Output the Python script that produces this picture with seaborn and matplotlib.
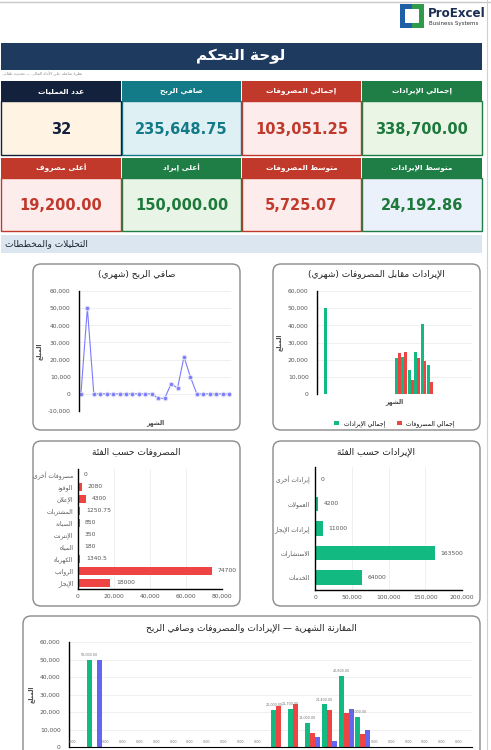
import numpy as np
import pandas as pd
import matplotlib
matplotlib.use("Agg")
import matplotlib.pyplot as plt
import seaborn as sns
from matplotlib.patches import Rectangle, FancyBboxPatch
from matplotlib.ticker import FuncFormatter

# ---------------- data ----------------
months = [f"M{i+1}" for i in range(24)]
monthly_revenue = [0, 50000, 0, 0, 0, 0, 0, 0, 0, 0, 0, 0,
                   21000, 21700, 14000, 24400, 40800, 17000, 0, 0, 0, 0, 0, 0]
monthly_expenses = [0, 0, 0, 0, 0, 0, 0, 0, 0, 0, 0, 0,
                    23600, 24300, 8200, 21000, 19200, 7200, 0, 0, 0, 0, 0, 0]
monthly_net = [0, 50000, 0, 0, 0, 0, 0, 0, 0, 0, 0, 0,
               -2600, -2600, 5800, 3400, 21600, 9800, 0, 0, 0, 0, 0, 0]

expense_cats = ["مصروفات أخرى", "الوقود", "الإعلان", "المشتريات", "الصيانة",
                "الإنترنت", "المياه", "الكهرباء", "الرواتب", "الإيجار"]
expense_vals = [0, 2080, 4300, 1250.75, 850, 350, 180, 1340.5, 74700, 18000]
revenue_cats = ["إيرادات أخرى", "العمولات", "إيرادات الإيجار", "الاستشارات", "الخدمات"]
revenue_vals = [0, 4200, 11000, 163500, 64000]

kpi_row1_labels = ["إجمالي الإيرادات", "إجمالي المصروفات", "صافي الربح", "عدد العمليات"]
kpi_row1_values = ["338,700.00", "103,051.25", "235,648.75", "32"]
kpi_row2_labels = ["متوسط الإيرادات", "متوسط المصروفات", "أعلى إيراد", "أعلى مصروف"]
kpi_row2_values = ["24,192.86", "5,725.07", "150,000.00", "19,200.00"]

# ---------------- arabic shaping ----------------
F = {
 'ء': (0xFE80, None, None, None),
 'آ': (0xFE81, 0xFE82, None, None), 'أ': (0xFE83, 0xFE84, None, None),
 'ؤ': (0xFE85, 0xFE86, None, None), 'إ': (0xFE87, 0xFE88, None, None),
 'ئ': (0xFE89, 0xFE8A, 0xFE8B, 0xFE8C), 'ا': (0xFE8D, 0xFE8E, None, None),
 'ب': (0xFE8F, 0xFE90, 0xFE91, 0xFE92), 'ة': (0xFE93, 0xFE94, None, None),
 'ت': (0xFE95, 0xFE96, 0xFE97, 0xFE98), 'ث': (0xFE99, 0xFE9A, 0xFE9B, 0xFE9C),
 'ج': (0xFE9D, 0xFE9E, 0xFE9F, 0xFEA0), 'ح': (0xFEA1, 0xFEA2, 0xFEA3, 0xFEA4),
 'خ': (0xFEA5, 0xFEA6, 0xFEA7, 0xFEA8), 'د': (0xFEA9, 0xFEAA, None, None),
 'ذ': (0xFEAB, 0xFEAC, None, None), 'ر': (0xFEAD, 0xFEAE, None, None),
 'ز': (0xFEAF, 0xFEB0, None, None), 'س': (0xFEB1, 0xFEB2, 0xFEB3, 0xFEB4),
 'ش': (0xFEB5, 0xFEB6, 0xFEB7, 0xFEB8), 'ص': (0xFEB9, 0xFEBA, 0xFEBB, 0xFEBC),
 'ض': (0xFEBD, 0xFEBE, 0xFEBF, 0xFEC0), 'ط': (0xFEC1, 0xFEC2, 0xFEC3, 0xFEC4),
 'ظ': (0xFEC5, 0xFEC6, 0xFEC7, 0xFEC8), 'ع': (0xFEC9, 0xFECA, 0xFECB, 0xFECC),
 'غ': (0xFECD, 0xFECE, 0xFECF, 0xFED0), 'ف': (0xFED1, 0xFED2, 0xFED3, 0xFED4),
 'ق': (0xFED5, 0xFED6, 0xFED7, 0xFED8), 'ك': (0xFED9, 0xFEDA, 0xFEDB, 0xFEDC),
 'ل': (0xFEDD, 0xFEDE, 0xFEDF, 0xFEE0), 'م': (0xFEE1, 0xFEE2, 0xFEE3, 0xFEE4),
 'ن': (0xFEE5, 0xFEE6, 0xFEE7, 0xFEE8), 'ه': (0xFEE9, 0xFEEA, 0xFEEB, 0xFEEC),
 'و': (0xFEED, 0xFEEE, None, None), 'ى': (0xFEEF, 0xFEF0, None, None),
 'ي': (0xFEF1, 0xFEF2, 0xFEF3, 0xFEF4),
}
LAMALEF = {'آ': (0xFEF5, 0xFEF6), 'أ': (0xFEF7, 0xFEF8), 'إ': (0xFEF9, 0xFEFA), 'ا': (0xFEFB, 0xFEFC)}


def dual(c):
    return c in F and F[c][2] is not None


def ar(s):
    out = []
    i = 0
    n = len(s)
    while i < n:
        c = s[i]
        if c not in F:
            out.append(c)
            i += 1
            continue
        prev = s[i - 1] if i > 0 else ''
        cp = dual(prev)
        if c == 'ل' and i + 1 < n and s[i + 1] in LAMALEF:
            iso, fin = LAMALEF[s[i + 1]]
            out.append(chr(fin if cp else iso))
            i += 2
            continue
        nxt = s[i + 1] if i + 1 < n else ''
        cn = dual(c) and nxt in F
        iso, fin, ini, med = F[c]
        if cp and cn:
            g = med
        elif cp:
            g = fin if fin else iso
        elif cn:
            g = ini
        else:
            g = iso
        out.append(chr(g))
        i += 1
    r = ''.join(out)[::-1]
    r = r.translate(str.maketrans('()', ')('))
    return r


# ---------------- figure ----------------
W, H = 491, 750
fig = plt.figure(figsize=(W / 100, H / 100), dpi=100)
plt.rcParams['font.family'] = ['DejaVu Sans']
bg = fig.add_axes([0, 0, 1, 1])
bg.set_xlim(0, W)
bg.set_ylim(H, 0)
bg.axis('off')


def rect(x0, y0, x1, y1, fc, ec='none', lw=0, z=1):
    bg.add_patch(Rectangle((x0, y0), x1 - x0, y1 - y0, fc=fc, ec=ec, lw=lw, zorder=z))


def card(x0, y0, x1, y1):
    bg.add_patch(FancyBboxPatch((x0, y0), x1 - x0, y1 - y0, boxstyle="round,pad=0,rounding_size=8",
                                fc='white', ec='#8a8a8a', lw=1.0, zorder=1))


def pax(x0, y0, x1, y1):
    return fig.add_axes([x0 / W, 1 - y1 / H, (x1 - x0) / W, (y1 - y0) / H])


bg.plot([0, W], [1.5, 1.5], color='#c8c8c8', lw=1)
bg.plot([487, 487], [0, H], color='#d0d0d0', lw=0.8)

# logo
rect(400, 4, 408, 28, '#1f5fa8'); rect(400, 4, 412, 9, '#1f5fa8'); rect(400, 23, 412, 28, '#1f5fa8')
rect(416, 4, 424, 28, '#2e9a4a'); rect(412, 4, 424, 9, '#2e9a4a'); rect(412, 23, 424, 28, '#2e9a4a')
rect(405, 9, 419, 23, 'white', z=2)
bg.text(428, 13.5, "ProExcel", fontsize=8.6, fontweight='bold', color='#1b2f52', va='center', ha='left')
bg.text(429, 24, "Business Systems", fontsize=4.0, color='#333333', va='center', ha='left')

# title bar
rect(1, 43, 482, 70, '#1f3a5f')
bg.text(241, 56.5, ar("لوحة التحكم"), fontsize=11, fontweight='bold', color='white', ha='center', va='center')
bg.text(2, 74, ar("نظرة شاملة على الأداء المالي — تحديث تلقائي"), fontsize=3, color='#888888', ha='left', va='center')

# KPI cards (right to left)
cols = [(362, 482), (242, 361), (122, 241), (1, 121)]
row1_style = [('#1e7e45', '#eaf5e6', '#1e7a3c'), ('#c0392b', '#fdecec', '#c0392b'),
              ('#137a87', '#dff0f5', '#137a87'), ('#13213d', '#fff3e3', '#13213d')]
row2_style = [('#1e7e45', '#ebf1fa', '#1e7a3c'), ('#c0392b', '#fdecec', '#c0392b'),
              ('#1e7e45', '#e8f5e6', '#1e7a3c'), ('#c0392b', '#fdecec', '#c0392b')]
for (y0, yh, y1, labels, values, styles) in [(81, 101, 155, kpi_row1_labels, kpi_row1_values, row1_style),
                                             (158, 178, 231, kpi_row2_labels, kpi_row2_values, row2_style)]:
    for (x0, x1), lab, val, (hc, bc, vc) in zip(cols, labels, values, styles):
        rect(x0, y0, x1, yh, hc)
        rect(x0, yh, x1, y1, bc, ec=hc, lw=1)
        bg.text((x0 + x1) / 2, (y0 + yh) / 2, ar(lab), fontsize=5.3, fontweight='bold', color='white',
                ha='center', va='center')
        bg.text((x0 + x1) / 2, (yh + y1) / 2 + 1, val, fontsize=10.5, fontweight='bold', color=vc,
                ha='center', va='center')

# section bar
rect(1, 235, 482, 253, '#dce6f0')
bg.text(5, 244, ar("التحليلات والمخططات"), fontsize=6.5, color='#1b2433', ha='left', va='center')

card(33, 264, 240, 430)
card(273, 264, 480, 430)
card(33, 441, 240, 606)
card(273, 441, 480, 606)
card(23, 616, 480, 800)

GREEN, RED, BLUE = '#12b981', '#ef4444', '#6366f1'
fmt = FuncFormatter(lambda v, p: f"{v:,.0f}")
TICK = 4.3


def style_v(ax):
    for s in ['top', 'right', 'bottom']:
        ax.spines[s].set_visible(False)
    ax.spines['left'].set_color('black')
    ax.spines['left'].set_linewidth(1)
    ax.grid(axis='y', color='#eeeeee', lw=0.6)
    ax.set_axisbelow(True)
    ax.yaxis.set_major_formatter(fmt)
    ax.tick_params(axis='y', labelsize=TICK, colors='#555555', length=0, pad=6)
    ax.tick_params(axis='x', length=0, labelbottom=False)
    ax.set_ylabel(ar("المبلغ"), fontsize=4.3, fontweight='bold', color='#444444', labelpad=4)
    ax.set_xlabel('')
    ax.set_facecolor('none')


x_idx = list(range(len(months)))

# ---- net profit line chart
bg.text(136.5, 274, ar("صافي الربح (شهري)"), fontsize=6.5, color='#222222', ha='center', va='center')
ax = pax(79, 291, 231, 411)
sns.lineplot(x=x_idx, y=monthly_net, ax=ax, color='#7b7bff', lw=0.8, marker='o', markersize=3.2,
             markerfacecolor='#7b7bff', markeredgecolor='#dcdcf5', markeredgewidth=0.8)
ax.set_ylim(-10000, 60000)
ax.set_yticks(range(-10000, 60001, 10000))
ax.set_xlim(-0.3, 23.3)
style_v(ax)
ax.set_xlabel(ar("الشهر"), fontsize=4.3, fontweight='bold', color='#444444', labelpad=6)

# ---- revenue vs expenses
bg.text(376.5, 274, ar("الإيرادات مقابل المصروفات (شهري)"), fontsize=6.5, color='#222222', ha='center', va='center')
ax = pax(317, 291, 472, 394)
df2 = pd.DataFrame({'m': x_idx * 2, 'v': monthly_revenue + monthly_expenses,
                    's': [ar("إجمالي الإيرادات")] * 24 + [ar("إجمالي المصروفات")] * 24})
sns.barplot(data=df2, x='m', y='v', hue='s', palette=[GREEN, RED], width=0.9, ax=ax, legend=True, saturation=1)
ax.set_ylim(0, 60000)
ax.set_yticks(range(0, 60001, 10000))
style_v(ax)
ax.set_xlabel(ar("الشهر"), fontsize=4.3, fontweight='bold', color='#444444', labelpad=3)
ax.legend(loc='upper center', bbox_to_anchor=(0.5, -0.2), ncol=2, frameon=False, fontsize=4.3,
          handlelength=0.8, handleheight=0.8, columnspacing=2)


def style_h(ax, ticks):
    for s in ['top', 'right']:
        ax.spines[s].set_visible(False)
    for s in ['left', 'bottom']:
        ax.spines[s].set_color('black')
        ax.spines[s].set_linewidth(1)
    ax.grid(axis='x', color='#eeeeee', lw=0.6)
    ax.set_axisbelow(True)
    ax.set_xticks(ticks)
    ax.xaxis.set_major_formatter(fmt)
    ax.tick_params(labelsize=TICK, colors='#555555', length=0)
    ax.set_xlabel('')
    ax.set_ylabel('')
    ax.set_facecolor('none')


# ---- expenses by category
bg.text(136.5, 452, ar("المصروفات حسب الفئة"), fontsize=6.5, color='#222222', ha='center', va='center')
ax = pax(78, 469, 222, 589)
dfe = pd.DataFrame({'c': [ar(c) for c in expense_cats], 'v': expense_vals})
sns.barplot(data=dfe, y='c', x='v', color=RED, width=0.65, ax=ax, saturation=1)
ax.set_xlim(0, 80000)
style_h(ax, range(0, 80001, 20000))
ax.bar_label(ax.containers[0], labels=[f"{v:g}" for v in expense_vals], fontsize=4.3, color='#555555', padding=4)

# ---- revenue by category
bg.text(376.5, 452, ar("الإيرادات حسب الفئة"), fontsize=6.5, color='#222222', ha='center', va='center')
ax = pax(315, 467, 462, 590)
dfr = pd.DataFrame({'c': [ar(c) for c in revenue_cats], 'v': revenue_vals})
sns.barplot(data=dfr, y='c', x='v', color=GREEN, width=0.6, ax=ax, saturation=1)
ax.set_xlim(0, 200000)
style_h(ax, range(0, 200001, 50000))
ax.bar_label(ax.containers[0], labels=[f"{v:g}" for v in revenue_vals], fontsize=4.3, color='#555555', padding=4)

# ---- monthly comparison
bg.text(251.5, 628, ar("المقارنة الشهرية — الإيرادات والمصروفات وصافي الربح"), fontsize=6.5, color='#222222',
        ha='center', va='center')
ax = pax(69, 642, 472, 747)
df3 = pd.DataFrame({'m': x_idx * 3, 'v': monthly_revenue + monthly_expenses + monthly_net,
                    's': ['rev'] * 24 + ['exp'] * 24 + ['net'] * 24})
sns.barplot(data=df3, x='m', y='v', hue='s', palette=[GREEN, RED, BLUE], width=0.9, ax=ax, legend=False,
            saturation=1)
ax.set_ylim(0, 60000)
ax.set_yticks(range(0, 60001, 10000))
style_v(ax)
ax.spines['bottom'].set_visible(True)
ax.spines['bottom'].set_color('black')
ax.bar_label(ax.containers[0], labels=[f"{v:,.2f}" for v in monthly_revenue], fontsize=2.4,
             color='#777777', padding=2)

fig.savefig("out.png", dpi=100)
